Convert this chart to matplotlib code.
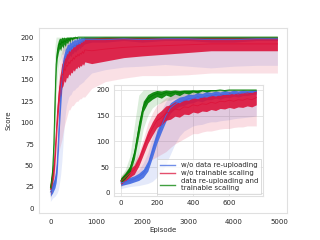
import numpy as np
import matplotlib
matplotlib.use("Agg")
import matplotlib.pyplot as plt
from matplotlib.lines import Line2D

# Episodes: fine steps for the first 750 (shown in the inset), coarse after that
episodes = list(range(0, 751, 25)) + [900, 1200, 1600, 2000, 2500, 3000, 3500, 4000, 4500, 4950]

# w/o data re-uploading
blue_mean = [19, 21, 24, 27, 31, 38, 52, 80, 108, 130, 150, 165, 172, 177, 179, 183,
             183, 187, 185, 189, 188, 191, 189, 192, 191, 194, 192, 195, 194, 196, 197,
             197, 197, 198, 197, 198, 198, 197, 197, 198, 198]
blue_spread = [5, 5, 6, 6, 7, 8, 10, 12, 12, 12, 11, 10, 9, 9, 9, 9,
               8, 8, 8, 8, 7, 7, 7, 7, 6, 6, 6, 6, 5, 5, 5,
               3, 3, 2, 3, 2, 2, 3, 3, 2, 2]
blue_low = [8, 10, 12, 13, 14, 16, 18, 22, 30, 40, 55, 75, 95, 110, 120, 125,
            130, 132, 133, 136, 138, 138, 140, 141, 142, 144, 145, 146, 147, 148, 150,
            158, 162, 165, 166, 168, 166, 164, 166, 167, 167]
blue_high = [28, 32, 36, 40, 45, 58, 78, 110, 140, 160, 178, 188, 192, 195, 197, 198,
             200, 200, 200, 200, 200, 200, 200, 200, 200, 200, 200, 200, 200, 200, 200,
             200, 200, 200, 200, 200, 200, 200, 200, 200, 200]

# w/o trainable scaling
red_mean = [22, 30, 38, 45, 62, 85, 108, 125, 140, 146, 155, 157, 163, 161, 167, 166,
            171, 169, 173, 172, 176, 174, 178, 177, 180, 178, 181, 180, 183, 181, 185,
            184, 186, 188, 189, 190, 191, 192, 192, 192, 192]
red_spread = [6, 7, 8, 9, 10, 11, 12, 13, 13, 14, 14, 14, 14, 14, 14, 14,
              14, 14, 14, 14, 14, 14, 14, 14, 14, 14, 14, 14, 14, 14, 14,
              15, 14, 12, 11, 10, 9, 8, 8, 8, 8]
red_low = [12, 16, 20, 26, 35, 48, 60, 65, 70, 75, 80, 88, 95, 100, 105, 110,
           115, 115, 118, 120, 120, 122, 124, 125, 125, 127, 128, 128, 130, 130, 130,
           140, 148, 152, 155, 155, 156, 158, 158, 158, 158]
red_high = [32, 42, 52, 60, 80, 105, 135, 155, 170, 178, 185, 188, 192, 194, 195, 196,
            197, 198, 198, 198, 200, 200, 200, 200, 200, 200, 200, 200, 200, 200, 200,
            200, 200, 200, 200, 200, 200, 200, 200, 200, 200]

# data re-uploading and trainable scaling
green_mean = [24, 33, 45, 75, 125, 168, 183, 189, 193, 191, 195, 193, 196, 194, 197, 196,
              198, 197, 199, 198, 199, 199, 200, 199, 200, 200, 200, 200, 200, 200, 200,
              200, 200, 200, 200, 200, 200, 200, 200, 200, 200]
green_spread = [5, 6, 7, 10, 14, 10, 8, 7, 6, 7, 5, 6, 4, 5, 3, 4,
                2, 3, 1, 2, 1, 1, 1, 1, 1, 1, 1, 1, 1, 1, 1,
                1, 1, 1, 1, 1, 1, 1, 1, 1, 1]
green_low = [12, 20, 28, 45, 80, 125, 150, 165, 172, 175, 180, 180, 184, 184, 187, 187,
             190, 190, 192, 192, 194, 195, 195, 195, 195, 195, 195, 195, 195, 195, 195,
             196, 196, 196, 196, 196, 196, 196, 196, 196, 196]
green_high = [32, 45, 70, 130, 190, 200, 200, 200, 200, 200, 200, 200, 200, 200, 200, 200,
              200, 200, 200, 200, 200, 200, 200, 200, 200, 200, 200, 200, 200, 200, 200,
              200, 200, 200, 200, 200, 200, 200, 200, 200, 200]

labels = ["w/o data re-uploading", "w/o trainable scaling",
          "data re-uploading and\ntrainable scaling"]
colors = ["#4169e1", "#dc143c", "#008000"]

series = [
    (blue_mean, blue_spread, blue_low, blue_high),
    (red_mean, red_spread, red_low, red_high),
    (green_mean, green_spread, green_low, green_high),
]

plt.rcParams['font.family'] = ['DejaVu Sans']
plt.rcParams['font.size'] = 5
grid_gray = "#e0e0e0"
text_gray = "#262626"


def draw(ax, last, faint):
    x = np.array(episodes[:last])
    for (m, s, lo, hi), c in zip(series, colors):
        ax.fill_between(x, lo[:last], hi[:last], color=c, alpha=faint, lw=0)
    for (m, s, lo, hi), c in zip(series, colors):
        m = np.array(m[:last])
        s = np.array(s[:last])
        ax.fill_between(x, m - s, np.minimum(m + s, 200), color=c, alpha=0.9, lw=0)
        ax.plot(x, m, color=c, lw=0.6)


fig = plt.figure(figsize=(3.2, 2.4), dpi=100)
ax = fig.add_axes([0.123, 0.1125, 0.774, 0.7705])
draw(ax, len(episodes), 0.13)
ax.set_xlim(-240, 5160)
ax.set_ylim(-5.5, 210.5)
ax.set_xticks([0, 1000, 2000, 3000, 4000, 5000])
ax.set_yticks(range(0, 201, 25))
ax.set_xlabel("Episode", fontsize=5, color=text_gray, labelpad=2)
ax.set_ylabel("Score", fontsize=5, color=text_gray, labelpad=6)
ax.tick_params(length=0, labelsize=5, colors=text_gray, pad=4)
for sp in ax.spines.values():
    sp.set_color(grid_gray)
    sp.set_linewidth(0.8)

# Inset: first 750 episodes
axin = fig.add_axes([0.356, 0.183, 0.466, 0.463])
axin.grid(True, color=grid_gray, lw=0.6)
axin.set_axisbelow(True)
draw(axin, 31, 0.14)
axin.set_xlim(-37.5, 787.5)
axin.set_ylim(-6.5, 209.7)
axin.set_xticks([0, 200, 400, 600])
axin.set_yticks([0, 50, 100, 150, 200])
axin.tick_params(length=0, labelsize=5, colors=text_gray, pad=3)
for sp in axin.spines.values():
    sp.set_color(grid_gray)
    sp.set_linewidth(0.8)

handles = [Line2D([], [], color=c, lw=1, alpha=0.75) for c in colors]
leg = axin.legend(handles, labels, loc="lower right", fontsize=5, frameon=True,
                  handlelength=2.2, labelspacing=0.3, borderpad=0.4,
                  borderaxespad=0.3, fancybox=False)
leg.get_frame().set_edgecolor("#cccccc")
leg.get_frame().set_linewidth(0.6)
for t in leg.get_texts():
    t.set_color(text_gray)

fig.savefig("out.png", dpi=100)
